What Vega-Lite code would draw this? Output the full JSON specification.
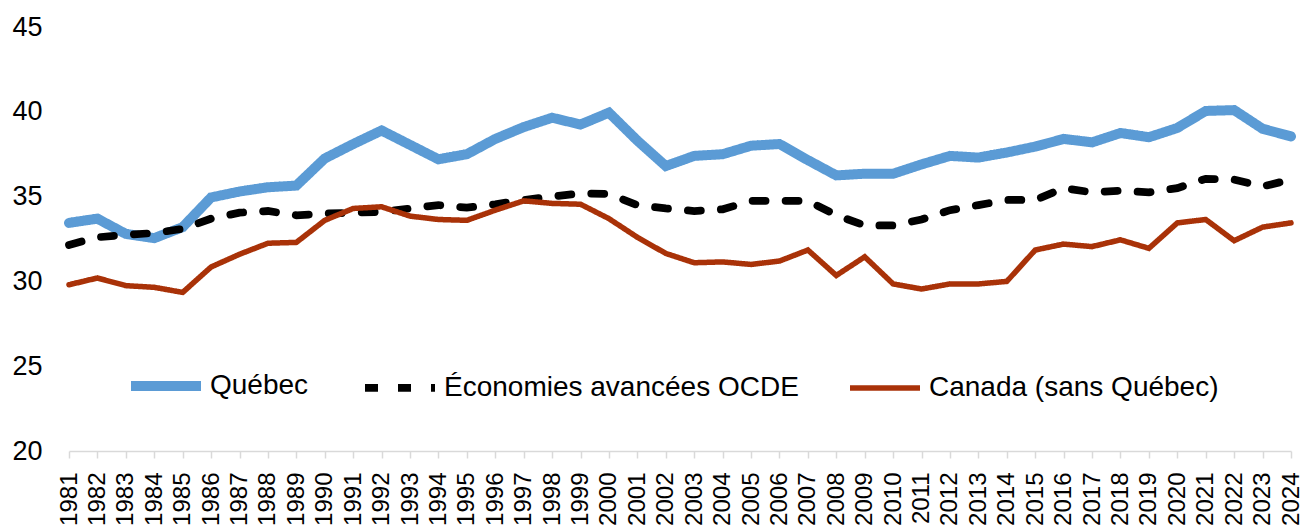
{
  "$schema": "https://vega.github.io/schema/vega-lite/v6.json",
  "width": 1222,
  "height": 424,
  "autosize": {"type": "none"},
  "padding": {"left": 69, "top": 27, "right": 11, "bottom": 74},
  "background": "white",
  "config": {
    "view": {"stroke": null},
    "font": "Liberation Sans",
    "axis": {"labelFont": "Liberation Sans", "labelColor": "#000000", "title": null, "grid": false},
    "legend": {
      "orient": "none",
      "legendX": 57,
      "legendY": 319,
      "direction": "horizontal",
      "columns": 3,
      "symbolType": "stroke",
      "symbolSize": 4900,
      "labelFontSize": 28,
      "labelFont": "Liberation Sans",
      "labelColor": "#000000",
      "labelLimit": 600,
      "labelOffset": 4,
      "columnPadding": 40,
      "padding": 0,
      "title": null
    }
  },
  "data": {
    "values": [
      {"year": 1981, "series": "Québec", "value": 33.45},
      {"year": 1982, "series": "Québec", "value": 33.7},
      {"year": 1983, "series": "Québec", "value": 32.8},
      {"year": 1984, "series": "Québec", "value": 32.55},
      {"year": 1985, "series": "Québec", "value": 33.2},
      {"year": 1986, "series": "Québec", "value": 34.95},
      {"year": 1987, "series": "Québec", "value": 35.3},
      {"year": 1988, "series": "Québec", "value": 35.55},
      {"year": 1989, "series": "Québec", "value": 35.65},
      {"year": 1990, "series": "Québec", "value": 37.25},
      {"year": 1991, "series": "Québec", "value": 38.1},
      {"year": 1992, "series": "Québec", "value": 38.9},
      {"year": 1993, "series": "Québec", "value": 38.05},
      {"year": 1994, "series": "Québec", "value": 37.2},
      {"year": 1995, "series": "Québec", "value": 37.5},
      {"year": 1996, "series": "Québec", "value": 38.4},
      {"year": 1997, "series": "Québec", "value": 39.1},
      {"year": 1998, "series": "Québec", "value": 39.65},
      {"year": 1999, "series": "Québec", "value": 39.25},
      {"year": 2000, "series": "Québec", "value": 39.95},
      {"year": 2001, "series": "Québec", "value": 38.3},
      {"year": 2002, "series": "Québec", "value": 36.8},
      {"year": 2003, "series": "Québec", "value": 37.4},
      {"year": 2004, "series": "Québec", "value": 37.5},
      {"year": 2005, "series": "Québec", "value": 38.0},
      {"year": 2006, "series": "Québec", "value": 38.1},
      {"year": 2007, "series": "Québec", "value": 37.15},
      {"year": 2008, "series": "Québec", "value": 36.25},
      {"year": 2009, "series": "Québec", "value": 36.35},
      {"year": 2010, "series": "Québec", "value": 36.35},
      {"year": 2011, "series": "Québec", "value": 36.9},
      {"year": 2012, "series": "Québec", "value": 37.4},
      {"year": 2013, "series": "Québec", "value": 37.3},
      {"year": 2014, "series": "Québec", "value": 37.6},
      {"year": 2015, "series": "Québec", "value": 37.95},
      {"year": 2016, "series": "Québec", "value": 38.4},
      {"year": 2017, "series": "Québec", "value": 38.2},
      {"year": 2018, "series": "Québec", "value": 38.75},
      {"year": 2019, "series": "Québec", "value": 38.5},
      {"year": 2020, "series": "Québec", "value": 39.05},
      {"year": 2021, "series": "Québec", "value": 40.05},
      {"year": 2022, "series": "Québec", "value": 40.1},
      {"year": 2023, "series": "Québec", "value": 39.0},
      {"year": 2024, "series": "Québec", "value": 38.55},
      {"year": 1981, "series": "Économies avancées OCDE", "value": 32.15},
      {"year": 1982, "series": "Économies avancées OCDE", "value": 32.6},
      {"year": 1983, "series": "Économies avancées OCDE", "value": 32.75},
      {"year": 1984, "series": "Économies avancées OCDE", "value": 32.85},
      {"year": 1985, "series": "Économies avancées OCDE", "value": 33.1},
      {"year": 1986, "series": "Économies avancées OCDE", "value": 33.7},
      {"year": 1987, "series": "Économies avancées OCDE", "value": 34.05},
      {"year": 1988, "series": "Économies avancées OCDE", "value": 34.15},
      {"year": 1989, "series": "Économies avancées OCDE", "value": 33.9},
      {"year": 1990, "series": "Économies avancées OCDE", "value": 34.0},
      {"year": 1991, "series": "Économies avancées OCDE", "value": 34.05},
      {"year": 1992, "series": "Économies avancées OCDE", "value": 34.1},
      {"year": 1993, "series": "Économies avancées OCDE", "value": 34.3},
      {"year": 1994, "series": "Économies avancées OCDE", "value": 34.5},
      {"year": 1995, "series": "Économies avancées OCDE", "value": 34.35},
      {"year": 1996, "series": "Économies avancées OCDE", "value": 34.55},
      {"year": 1997, "series": "Économies avancées OCDE", "value": 34.8},
      {"year": 1998, "series": "Économies avancées OCDE", "value": 35.0},
      {"year": 1999, "series": "Économies avancées OCDE", "value": 35.2},
      {"year": 2000, "series": "Économies avancées OCDE", "value": 35.15},
      {"year": 2001, "series": "Économies avancées OCDE", "value": 34.5},
      {"year": 2002, "series": "Économies avancées OCDE", "value": 34.3},
      {"year": 2003, "series": "Économies avancées OCDE", "value": 34.15},
      {"year": 2004, "series": "Économies avancées OCDE", "value": 34.25},
      {"year": 2005, "series": "Économies avancées OCDE", "value": 34.75},
      {"year": 2006, "series": "Économies avancées OCDE", "value": 34.75},
      {"year": 2007, "series": "Économies avancées OCDE", "value": 34.75},
      {"year": 2008, "series": "Économies avancées OCDE", "value": 33.9},
      {"year": 2009, "series": "Économies avancées OCDE", "value": 33.3},
      {"year": 2010, "series": "Économies avancées OCDE", "value": 33.3},
      {"year": 2011, "series": "Économies avancées OCDE", "value": 33.65},
      {"year": 2012, "series": "Économies avancées OCDE", "value": 34.2},
      {"year": 2013, "series": "Économies avancées OCDE", "value": 34.5},
      {"year": 2014, "series": "Économies avancées OCDE", "value": 34.8},
      {"year": 2015, "series": "Économies avancées OCDE", "value": 34.8},
      {"year": 2016, "series": "Économies avancées OCDE", "value": 35.5},
      {"year": 2017, "series": "Économies avancées OCDE", "value": 35.25},
      {"year": 2018, "series": "Économies avancées OCDE", "value": 35.35},
      {"year": 2019, "series": "Économies avancées OCDE", "value": 35.25},
      {"year": 2020, "series": "Économies avancées OCDE", "value": 35.5},
      {"year": 2021, "series": "Économies avancées OCDE", "value": 36.05},
      {"year": 2022, "series": "Économies avancées OCDE", "value": 36.0},
      {"year": 2023, "series": "Économies avancées OCDE", "value": 35.6},
      {"year": 2024, "series": "Économies avancées OCDE", "value": 36.0},
      {"year": 1981, "series": "Canada (sans Québec)", "value": 29.8},
      {"year": 1982, "series": "Canada (sans Québec)", "value": 30.2},
      {"year": 1983, "series": "Canada (sans Québec)", "value": 29.75},
      {"year": 1984, "series": "Canada (sans Québec)", "value": 29.65},
      {"year": 1985, "series": "Canada (sans Québec)", "value": 29.35},
      {"year": 1986, "series": "Canada (sans Québec)", "value": 30.85},
      {"year": 1987, "series": "Canada (sans Québec)", "value": 31.6},
      {"year": 1988, "series": "Canada (sans Québec)", "value": 32.25},
      {"year": 1989, "series": "Canada (sans Québec)", "value": 32.3},
      {"year": 1990, "series": "Canada (sans Québec)", "value": 33.6},
      {"year": 1991, "series": "Canada (sans Québec)", "value": 34.3},
      {"year": 1992, "series": "Canada (sans Québec)", "value": 34.4},
      {"year": 1993, "series": "Canada (sans Québec)", "value": 33.85},
      {"year": 1994, "series": "Canada (sans Québec)", "value": 33.65},
      {"year": 1995, "series": "Canada (sans Québec)", "value": 33.6},
      {"year": 1996, "series": "Canada (sans Québec)", "value": 34.2},
      {"year": 1997, "series": "Canada (sans Québec)", "value": 34.75},
      {"year": 1998, "series": "Canada (sans Québec)", "value": 34.6},
      {"year": 1999, "series": "Canada (sans Québec)", "value": 34.55},
      {"year": 2000, "series": "Canada (sans Québec)", "value": 33.7},
      {"year": 2001, "series": "Canada (sans Québec)", "value": 32.6},
      {"year": 2002, "series": "Canada (sans Québec)", "value": 31.65},
      {"year": 2003, "series": "Canada (sans Québec)", "value": 31.1},
      {"year": 2004, "series": "Canada (sans Québec)", "value": 31.15},
      {"year": 2005, "series": "Canada (sans Québec)", "value": 31.0},
      {"year": 2006, "series": "Canada (sans Québec)", "value": 31.2},
      {"year": 2007, "series": "Canada (sans Québec)", "value": 31.85},
      {"year": 2008, "series": "Canada (sans Québec)", "value": 30.35},
      {"year": 2009, "series": "Canada (sans Québec)", "value": 31.45},
      {"year": 2010, "series": "Canada (sans Québec)", "value": 29.85},
      {"year": 2011, "series": "Canada (sans Québec)", "value": 29.55},
      {"year": 2012, "series": "Canada (sans Québec)", "value": 29.85},
      {"year": 2013, "series": "Canada (sans Québec)", "value": 29.85},
      {"year": 2014, "series": "Canada (sans Québec)", "value": 30.0},
      {"year": 2015, "series": "Canada (sans Québec)", "value": 31.85},
      {"year": 2016, "series": "Canada (sans Québec)", "value": 32.2},
      {"year": 2017, "series": "Canada (sans Québec)", "value": 32.05},
      {"year": 2018, "series": "Canada (sans Québec)", "value": 32.45},
      {"year": 2019, "series": "Canada (sans Québec)", "value": 31.95},
      {"year": 2020, "series": "Canada (sans Québec)", "value": 33.45},
      {"year": 2021, "series": "Canada (sans Québec)", "value": 33.65},
      {"year": 2022, "series": "Canada (sans Québec)", "value": 32.4},
      {"year": 2023, "series": "Canada (sans Québec)", "value": 33.2},
      {"year": 2024, "series": "Canada (sans Québec)", "value": 33.45}
    ]
  },
  "mark": {"type": "line", "strokeJoin": "miter", "strokeCap": "round"},
  "encoding": {
    "x": {
      "field": "year",
      "type": "ordinal",
      "scale": {"type": "point", "padding": 0},
      "axis": {
        "labelAngle": -90,
        "labelFontSize": 24,
        "labelPadding": 14,
        "tickSize": 7,
        "tickColor": "#D9D9D9",
        "tickWidth": 1.5,
        "domainColor": "#D9D9D9",
        "domainWidth": 1.5
      }
    },
    "y": {
      "field": "value",
      "type": "quantitative",
      "scale": {"domain": [20, 45], "nice": false, "zero": false},
      "axis": {
        "values": [20, 25, 30, 35, 40, 45],
        "labelFontSize": 27,
        "labelPadding": 27,
        "ticks": false,
        "domain": false
      }
    },
    "color": {
      "field": "series",
      "type": "nominal",
      "scale": {
        "domain": ["Québec", "Économies avancées OCDE", "Canada (sans Québec)"],
        "range": ["#5B9BD5", "#000000", "#A93208"]
      },
      "legend": {"title": null}
    },
    "strokeDash": {
      "field": "series",
      "type": "nominal",
      "scale": {
        "domain": ["Québec", "Économies avancées OCDE", "Canada (sans Québec)"],
        "range": [[1, 0], [13, 20], [1, 0]]
      },
      "legend": {"title": null}
    },
    "strokeWidth": {
      "field": "series",
      "type": "nominal",
      "scale": {
        "domain": ["Québec", "Économies avancées OCDE", "Canada (sans Québec)"],
        "range": [10, 5.5, 4]
      },
      "legend": {"title": null}
    }
  }
}
